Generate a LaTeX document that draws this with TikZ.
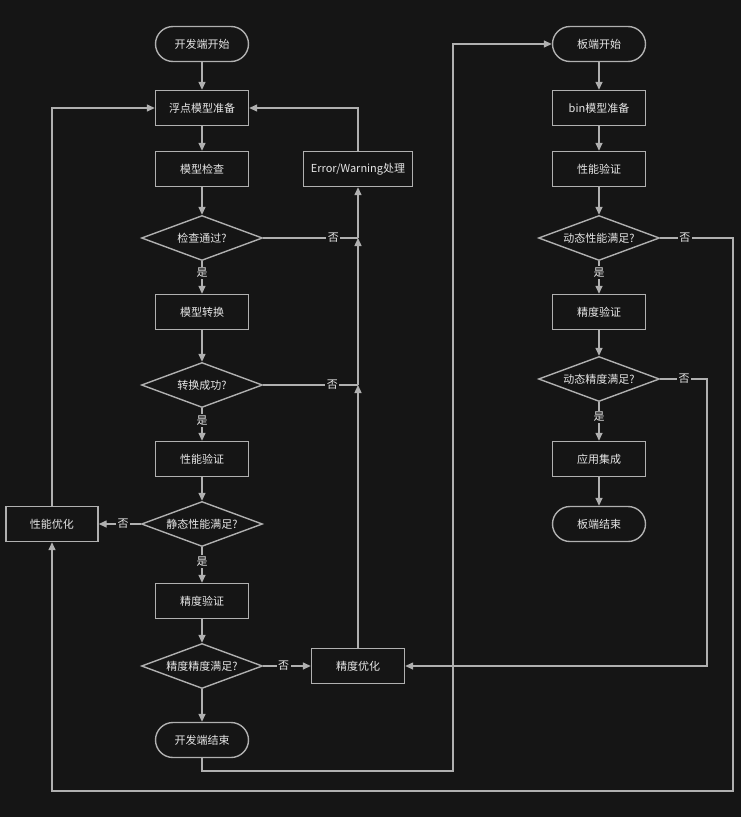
\documentclass[tikz,border=0pt]{standalone}
\usepackage{fontspec}
\setmainfont{Noto Sans CJK SC}
\usetikzlibrary{shapes.geometric,arrows.meta}
\definecolor{bg}{HTML}{151515}
\definecolor{lc}{HTML}{B0B0B0}
\definecolor{tx}{HTML}{E6E6E6}
\begin{document}
\begin{tikzpicture}[x=1pt,y=-1pt,
  every node/.style={font=\fontsize{11}{13}\selectfont, text=tx},
  box/.style={draw=lc, line width=1.4pt, fill=bg, minimum width=93pt, minimum height=35pt, inner sep=0pt},
  term/.style={box, rounded corners=17.5pt},
  dec/.style={draw=lc, line width=1.4pt, fill=bg, diamond, aspect=2.69, minimum width=121pt, minimum height=45pt, inner sep=0pt},
  arr/.style={draw=lc, line width=1.4pt, -{Triangle[length=8pt,width=7pt]}},
  plain/.style={draw=lc, line width=1.4pt},
  lab/.style={fill=bg, inner sep=1.5pt}]
\fill[bg] (0,0) rectangle (741,817);
\useasboundingbox (0,0) rectangle (741,817);
% left column
\node[term] (s1) at (202,44) {开发端开始};
\node[box] (p1) at (202,108) {浮点模型准备};
\node[box] (c1) at (202,169) {模型检查};
\node[dec] (d1) at (202,238) {检查通过?};
\node[box] (m1) at (202,312) {模型转换};
\node[dec] (d2) at (202,385) {转换成功?};
\node[box] (v1) at (202,459) {性能验证};
\node[dec] (d3) at (202,524) {静态性能满足?};
\node[box] (a1) at (202,601) {精度验证};
\node[dec] (d4) at (202,666) {精度精度满足?};
\node[term] (e1) at (202,740) {开发端结束};
\node[box, minimum width=92pt] (po) at (52,524) {性能优化};
\node[box, minimum width=109pt] (ew) at (358,169) {Error/Warning处理};
\node[box] (ao) at (358,666) {精度优化};
% right column
\node[term] (s2) at (599,44) {板端开始};
\node[box] (b2) at (599,108) {bin模型准备};
\node[box] (v2) at (599,169) {性能验证};
\node[dec] (d5) at (599,238) {动态性能满足?};
\node[box] (a2) at (599,312) {精度验证};
\node[dec] (d6) at (599,379) {动态精度满足?};
\node[box] (i2) at (599,459) {应用集成};
\node[term] (e2) at (599,524) {板端结束};
% junction coordinates
\coordinate (j1) at (358,238);
\coordinate (j2) at (358,385);
\coordinate (k1) at (453,771);
\coordinate (r1) at (733,238);
\coordinate (r2) at (733,791);
\coordinate (r3) at (707,379);
% left chain
\draw[arr] (s1) -- (p1);
\draw[arr] (p1) -- (c1);
\draw[arr] (c1) -- (d1);
\draw[arr] (d1) -- node[lab,pos=0.36]{是} (m1);
\draw[arr] (m1) -- (d2);
\draw[arr] (d2) -- node[lab,pos=0.38]{是} (v1);
\draw[arr] (v1) -- (d3);
\draw[arr] (d3) -- node[lab,pos=0.4]{是} (a1);
\draw[arr] (a1) -- (d4);
\draw[arr] (d4) -- (e1);
% error loop
\draw[plain] (d1.east) -- node[lab,pos=0.74]{否} (j1);
\draw[plain] (d2.east) -- node[lab,pos=0.73]{否} (j2);
\draw[arr] (ao.north) -- (j2);
\draw[arr] (j2) -- (j1);
\draw[arr] (j1) -- (ew.south);
\draw[arr] (ew.north) |- (p1.east);
% perf loop
\draw[arr] (d3.west) -- node[lab,pos=0.42]{否} (po.east);
\draw[arr] (po.north) |- (p1.west);
\draw[arr] (d4.east) -- node[lab,pos=0.43]{否} (ao.west);
% to board side
\draw[arr] (e1.south) |- (k1) |- (s2.west);
% right chain
\draw[arr] (s2) -- (b2);
\draw[arr] (b2) -- (v2);
\draw[arr] (v2) -- (d5);
\draw[arr] (d5) -- node[lab,pos=0.35]{是} (a2);
\draw[arr] (a2) -- (d6);
\draw[arr] (d6) -- node[lab,pos=0.38]{是} (i2);
\draw[arr] (i2) -- (e2);
% right loops
\draw[arr] (d5.east) -- node[lab,pos=0.34]{否} (r1) -- (r2) -| (po.south);
\draw[arr] (d6.east) -- node[lab,pos=0.51]{否} (r3) |- (ao.east);
\end{tikzpicture}
\end{document}
